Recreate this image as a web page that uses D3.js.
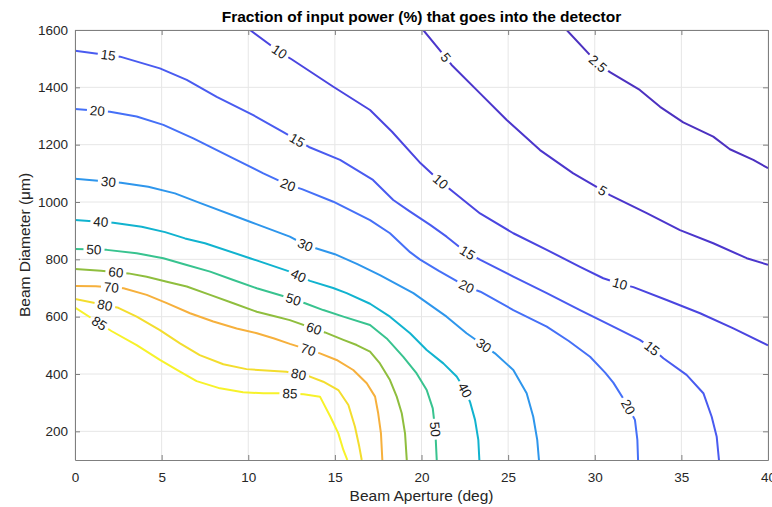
<!DOCTYPE html>
<html>
<head>
<meta charset="utf-8">
<script src="https://cdn.jsdelivr.net/npm/d3@7"></script>
<style>
  body { margin: 0; background: #fff; }
  text { font-family: "Liberation Sans", Arial, Helvetica, sans-serif; }
</style>
</head>
<body>
<svg id="chart" width="772" height="507"></svg>
<script>
// contour levels, and one polyline per level as [aperture (deg), diameter (um)]
var levels = [2.5, 5, 10, 15, 20, 30, 40, 50, 60, 70, 80, 85];

var c2_5 = [[28.38,1600],[30.2,1482],[30.9,1452],[32.6,1391],[33.77,1332],[35.11,1278],[36.84,1228],[37.8,1184],[39.15,1147],[40,1118]];
var c5 = [[20.1,1600],[21.36,1507],[21.74,1478],[23.38,1379],[24.92,1286],[26.84,1181],[28.76,1100],[30.4,1042],[30.88,1024],[33.0,961],[34.92,902],[36.84,856],[38.77,804],[40,781]];
var c10 = [[10.1,1600],[11.8,1524],[12.5,1498],[14.91,1402],[17.03,1321],[18.3,1245],[19.95,1135],[21.1,1071],[21.84,1035],[23.38,960],[25.3,891],[27.23,833],[29.15,774],[30.49,734],[31.45,715],[32.23,703],[34.15,658],[36.08,612],[38.0,559],[40,500]];
var c15 = [[0,1528],[2.6,1507],[4.9,1466],[6.45,1426],[8.18,1367],[10.29,1303],[12.0,1245],[13.5,1192],[15.3,1147],[17.2,1077],[18.37,1007],[19.3,968],[20.5,920],[21.45,879],[22.5,828],[23.4,798],[25.3,740],[27.23,682],[29.15,623],[31.07,565],[32.6,519],[33.3,490],[33.96,455],[35.3,397],[36.27,333],[36.75,251],[37.04,181],[37.17,100]];
var c20 = [[0,1324],[2.02,1315],[3.56,1298],[5.1,1269],[6.83,1222],[9.14,1152],[10.87,1100],[12.3,1060],[13.1,1045],[14.91,1001],[17.03,937],[18.18,891],[19.34,825],[19.9,800],[21.0,760],[22.6,705],[23.4,687],[25.3,623],[27.23,565],[28.5,515],[29.73,460],[30.6,405],[31.07,370],[31.8,300],[32.32,240],[32.46,170],[32.5,100]];
var c30 = [[0,1081],[2.65,1067],[4.23,1053],[5.77,1030],[7.2,997],[10.1,931],[12.4,879],[13.3,850],[15.0,818],[16.3,783],[17.6,745],[19.53,682],[21.45,600],[22.6,542],[23.4,508],[24.24,472],[25.3,414],[26.07,333],[26.45,251],[26.68,170],[26.78,100]];
var c40 = [[0,937],[2.21,928],[3.85,914],[5.2,895],[6.35,873],[7.5,856],[10.1,804],[12.4,757],[13.56,725],[14.9,700],[15.68,682],[17.03,645],[18.18,600],[19.34,542],[20.3,484],[21.26,437],[22.03,391],[22.5,345],[22.8,303],[23.09,240],[23.28,170],[23.34,100]];
var c50 = [[0,836],[1.83,833],[3.56,821],[5.1,804],[6.45,780],[7.8,757],[9.14,728],[10.49,699],[12.0,672],[13.28,647],[14.33,623],[15.49,600],[17.03,571],[17.99,524],[18.95,460],[19.72,402],[20.3,344],[20.65,280],[20.8,200],[20.88,100]];
var c60 = [[0,766],[1.5,760],[3.08,751],[4.14,739],[5.3,722],[6.45,705],[7.8,676],[9.14,647],[10.49,617],[11.64,600],[12.4,588],[14.43,545],[15.49,519],[16.26,501],[17.03,478],[17.6,437],[18.18,379],[18.57,321],[18.86,263],[19.05,193],[19.15,100]];
var c70 = [[0,707],[1.2,706],[2.8,699],[4.14,676],[5.3,647],[6.64,612],[7.98,583],[9.33,559],[10.5,542],[11.5,524],[12.4,505],[14.14,472],[15.1,449],[16.06,414],[16.84,368],[17.32,321],[17.5,263],[17.66,193],[17.74,100]];
var c80 = [[0,662],[2.5,631],[3.56,600],[4.9,553],[6.06,507],[7.2,466],[8.56,434],[9.9,417],[11.26,411],[12.2,408],[13.56,391],[14.33,373],[15.2,344],[15.78,292],[16.16,216],[16.41,146],[16.55,100]];
var c85 = [[0,632],[2.1,550],[3.56,501],[4.9,449],[6.06,408],[7.02,375],[8.37,350],[9.7,336],[10.87,333],[12,333],[13.2,329],[14.14,321],[14.75,250],[15.2,193],[15.49,135],[15.72,100]];

// inline labels: [level, aperture, diameter]
var labelSpots = [
  [2.5, 30.2, 1482],
  [5, 21.4, 1505], [5, 30.45, 1040],
  [10, 11.8, 1524], [10, 21.1, 1071], [10, 31.45, 715],
  [15, 1.93, 1515], [15, 12.8, 1215], [15, 22.6, 818], [15, 33.3, 488],
  [20, 1.3, 1318], [20, 12.3, 1060], [20, 22.6, 705], [20, 31.94, 286],
  [30, 1.92, 1071], [30, 13.28, 850], [30, 23.6, 501],
  [40, 1.5, 932], [40, 12.9, 743], [40, 22.5, 344],
  [50, 1.1, 834], [50, 12.6, 660], [50, 20.7, 207],
  [60, 2.37, 753], [60, 13.76, 555],
  [70, 2.1, 702], [70, 13.47, 485],
  [80, 1.73, 641], [80, 12.9, 399],
  [85, 1.35, 573], [85, 12.4, 332]
];

var xTicks = [0, 5, 10, 15, 20, 25, 30, 35, 40];
var yTicks = [200, 400, 600, 800, 1000, 1200, 1400, 1600];

var titleText = "Fraction of input power (%) that goes into the detector";
var xLabel = "Beam Aperture (deg)";
var yLabel = "Beam Diameter (\u03bcm)";

// parula-like colours for each level
var levelColors = ['#4c31c0', '#4b36cc', '#4a45e0', '#495bf0', '#4570f7', '#2e96ec',
                   '#11b3cf', '#38c38f', '#8fbe3e', '#f6b03c', '#f3dd2e', '#f7f22a'];

var contours = [
  {level: 2.5, pts: c2_5}, {level: 5, pts: c5}, {level: 10, pts: c10}, {level: 15, pts: c15},
  {level: 20, pts: c20}, {level: 30, pts: c30}, {level: 40, pts: c40}, {level: 50, pts: c50},
  {level: 60, pts: c60}, {level: 70, pts: c70}, {level: 80, pts: c80}, {level: 85, pts: c85}
];

var W = 772, H = 507;
var plotL = 75, plotR = 768, plotT = 30, plotB = 460;

var xScale = d3.scaleLinear().domain([0, 40]).range([plotL, plotR]);
var yScale = d3.scaleLinear().domain([100, 1600]).range([plotB, plotT]);
var color = d3.scaleOrdinal().domain(levels).range(levelColors);

var svg = d3.select('#chart');
var defs = svg.append('defs');

defs.append('clipPath').attr('id', 'plotClip')
  .append('rect')
  .attr('x', plotL).attr('y', plotT)
  .attr('width', plotR - plotL).attr('height', plotB - plotT);

var mask = defs.append('mask')
  .attr('id', 'labelGaps')
  .attr('maskUnits', 'userSpaceOnUse')
  .attr('x', 0).attr('y', 0).attr('width', W).attr('height', H);
mask.append('rect').attr('width', W).attr('height', H).attr('fill', '#fff');

/* grid */
var grid = svg.append('g').attr('class', 'grid');
grid.selectAll('.vx').data(xTicks).enter().append('line')
  .attr('x1', d => xScale(d)).attr('x2', d => xScale(d))
  .attr('y1', plotT).attr('y2', plotB)
  .attr('stroke', '#e6e6e6').attr('stroke-width', 1);
grid.selectAll('.hy').data(yTicks).enter().append('line')
  .attr('y1', d => yScale(d)).attr('y2', d => yScale(d))
  .attr('x1', plotL).attr('x2', plotR)
  .attr('stroke', '#e6e6e6').attr('stroke-width', 1);

/* contour lines */
var line = d3.line()
  .x(d => xScale(d[0]))
  .y(d => yScale(d[1]));

var lines = svg.append('g')
  .attr('clip-path', 'url(#plotClip)')
  .append('g')
  .attr('mask', 'url(#labelGaps)');

var paths = {};
contours.forEach(function(c) {
  paths[c.level] = lines.append('path')
    .attr('d', line(c.pts))
    .attr('fill', 'none')
    .attr('stroke', color(c.level))
    .attr('stroke-width', 2)
    .attr('stroke-linejoin', 'round')
    .node();
});

/* inline labels, placed on the line and turned along it */
var labelG = svg.append('g');
labelSpots.forEach(function(s) {
  var p = paths[s[0]];
  var len = p.getTotalLength();
  var px = xScale(s[1]), py = yScale(s[2]);
  var best = 0, bestD = Infinity;
  for (var l = 0; l <= len; l += 0.5) {
    var q = p.getPointAtLength(l);
    var d = (q.x - px) * (q.x - px) + (q.y - py) * (q.y - py);
    if (d < bestD) { bestD = d; best = l; }
  }
  var c = p.getPointAtLength(best);
  var a = p.getPointAtLength(Math.max(0, best - 9));
  var b = p.getPointAtLength(Math.min(len, best + 9));
  var ang = Math.atan2(b.y - a.y, b.x - a.x) * 180 / Math.PI;
  if (ang > 90) ang -= 180;
  if (ang < -90) ang += 180;

  var t = labelG.append('text')
    .attr('transform', 'translate(' + c.x + ',' + c.y + ') rotate(' + ang + ')')
    .attr('text-anchor', 'middle')
    .attr('dy', '0.35em')
    .attr('font-size', 13.5)
    .attr('fill', '#1a1a1a')
    .text(s[0]);
  var w = t.node().getComputedTextLength();
  mask.append('rect')
    .attr('x', -w / 2 - 3).attr('y', -7)
    .attr('width', w + 6).attr('height', 14)
    .attr('transform', 'translate(' + c.x + ',' + c.y + ') rotate(' + ang + ')')
    .attr('fill', '#000');
});

/* axes, ticks inside, box on */
var axisColor = '#7f7f7f';
var xAxis = d3.axisBottom(xScale).tickValues(xTicks).tickSizeInner(-5).tickSizeOuter(0).tickPadding(12);
var yAxis = d3.axisLeft(yScale).tickValues(yTicks).tickFormat(d3.format('d'))
  .tickSizeInner(-5).tickSizeOuter(0).tickPadding(7);
var xTop = d3.axisTop(xScale).tickValues(xTicks).tickSizeInner(-5).tickSizeOuter(0).tickFormat('');
var yRight = d3.axisRight(yScale).tickValues(yTicks).tickSizeInner(-5).tickSizeOuter(0).tickFormat('');

function styleAxis(g) {
  g.selectAll('path, line').attr('stroke', axisColor);
  g.selectAll('text')
    .attr('fill', '#262626')
    .attr('font-size', 13.5)
    .style('font-family', '"Liberation Sans", Arial, Helvetica, sans-serif');
}

svg.append('g').attr('transform', 'translate(0,' + plotB + ')').call(xAxis).call(styleAxis);
svg.append('g').attr('transform', 'translate(' + plotL + ',0)').call(yAxis).call(styleAxis);
svg.append('g').attr('transform', 'translate(0,' + plotT + ')').call(xTop).call(styleAxis);
svg.append('g').attr('transform', 'translate(' + plotR + ',0)').call(yRight).call(styleAxis);

/* titles */
svg.append('text')
  .attr('x', (plotL + plotR) / 2).attr('y', 22)
  .attr('text-anchor', 'middle')
  .attr('font-size', 15.5).attr('font-weight', 'bold')
  .attr('fill', '#000')
  .text(titleText);

svg.append('text')
  .attr('x', (plotL + plotR) / 2).attr('y', 501)
  .attr('text-anchor', 'middle')
  .attr('font-size', 15.5)
  .attr('fill', '#262626')
  .text(xLabel);

svg.append('text')
  .attr('transform', 'translate(30,' + (plotT + plotB) / 2 + ') rotate(-90)')
  .attr('text-anchor', 'middle')
  .attr('font-size', 15.5)
  .attr('fill', '#262626')
  .text(yLabel);
</script>
</body>
</html>
